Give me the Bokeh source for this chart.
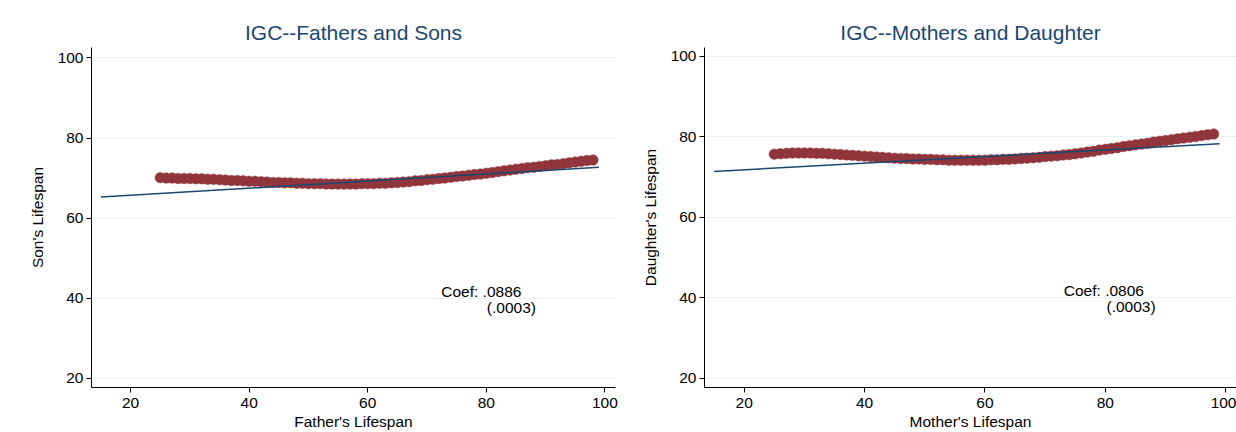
from bokeh.plotting import figure
from bokeh.layouts import row
from bokeh.models import Range1d, FixedTicker
from bokeh.embed import file_html
from bokeh.resources import INLINE
from bokeh.core.properties import value

# ---- data ----
ages = list(range(25, 99))
son_lifespan = [
    70.1, 70.0, 70.0, 69.9, 69.9, 69.9, 69.8, 69.8, 69.7, 69.7,
    69.6, 69.5, 69.4, 69.4, 69.3, 69.2, 69.2, 69.1, 69.0, 68.9,
    68.9, 68.8, 68.8, 68.7, 68.7, 68.6, 68.6, 68.6, 68.5, 68.5,
    68.5, 68.5, 68.5, 68.5, 68.6, 68.6, 68.6, 68.7, 68.7, 68.8,
    68.9, 69.0, 69.1, 69.3, 69.4, 69.6, 69.7, 69.9, 70.0, 70.2,
    70.4, 70.5, 70.7, 70.9, 71.0, 71.2, 71.4, 71.6, 71.8, 72.0,
    72.2, 72.4, 72.6, 72.7, 72.9, 73.1, 73.3, 73.4, 73.6, 73.8,
    74.0, 74.2, 74.4, 74.5,
]
daughter_lifespan = [
    75.7, 75.8, 75.9, 76.0, 76.0, 76.0, 76.0, 75.9, 75.9, 75.8,
    75.7, 75.6, 75.5, 75.4, 75.3, 75.2, 75.1, 75.0, 74.9, 74.8,
    74.7, 74.6, 74.6, 74.5, 74.5, 74.4, 74.4, 74.3, 74.3, 74.2,
    74.2, 74.2, 74.2, 74.2, 74.2, 74.2, 74.3, 74.3, 74.4, 74.4,
    74.5, 74.6, 74.7, 74.8, 74.9, 75.1, 75.2, 75.3, 75.5, 75.6,
    75.8, 76.0, 76.2, 76.4, 76.7, 76.9, 77.1, 77.3, 77.6, 77.8,
    78.0, 78.2, 78.4, 78.7, 78.9, 79.1, 79.3, 79.5, 79.7, 79.9,
    80.1, 80.3, 80.5, 80.7,
]
fit_x = [15, 99]
son_fit = [65.25, 72.7]
daughter_fit = [71.4, 78.3]
y_ticks = [20, 40, 60, 80, 100]
x_ticks = [20, 40, 60, 80, 100]

FONT = "Liberation Sans"
NAVY = "#1a476f"
MAROON = "#90353b"
GRID = "#eaf2f3"


def make_panel(title, xlab, ylab, ys, fit_y, coef, se, border_left, border_right,
               border_top, border_bottom, ymax, coef_pos, se_pos):
    p = figure(width=618, height=432, output_backend="svg", toolbar_location=None,
               x_range=Range1d(13.4, 101.8), y_range=Range1d(17.7, ymax),
               min_border_left=border_left, min_border_right=border_right,
               min_border_top=border_top, min_border_bottom=border_bottom,
               title=title)
    p.title.align = "center"
    p.title.text_font = FONT
    p.title.text_font_size = "21px"
    p.title.text_font_style = "normal"
    p.title.text_color = NAVY
    p.title.standoff = 7
    p.outline_line_color = None
    p.background_fill_color = "white"
    p.border_fill_color = "white"

    p.xgrid.grid_line_color = None
    p.ygrid.grid_line_color = GRID
    p.ygrid.grid_line_width = 1.2

    for ax in (p.xaxis[0], p.yaxis[0]):
        ax.ticker = FixedTicker(ticks=x_ticks if ax is p.xaxis[0] else y_ticks)
        ax.minor_tick_line_color = None
        ax.major_tick_in = 0
        ax.major_tick_out = 5
        ax.axis_line_color = "#000000"
        ax.major_tick_line_color = "#000000"
        ax.major_label_text_font = FONT
        ax.major_label_text_font_size = "15.5px"
        ax.major_label_text_color = "#000000"
        ax.axis_label_text_font = FONT
        ax.axis_label_text_font_size = "15.5px"
        ax.axis_label_text_font_style = "normal"
        ax.axis_label_text_color = "#000000"
    p.xaxis.axis_label = xlab
    p.yaxis.axis_label = ylab
    p.xaxis.major_label_standoff = 5
    p.xaxis.axis_label_standoff = 2
    p.yaxis.major_label_standoff = 3
    p.yaxis.axis_label_standoff = 9

    p.scatter(ages, ys, size=10.5, marker="circle", fill_color=MAROON,
              line_color=MAROON, line_width=0.5)
    p.line(fit_x, fit_y, line_color=NAVY, line_width=1.5)

    p.text(x=[coef_pos[0]], y=[coef_pos[1]], text=[coef], text_font=value(FONT),
           text_font_size="15.5px", text_color="#000000", text_align="left",
           text_baseline="middle")
    p.text(x=[se_pos[0]], y=[se_pos[1]], text=[se], text_font=value(FONT),
           text_font_size="15.5px", text_color="#000000", text_align="left",
           text_baseline="middle")
    return p


p1 = make_panel("IGC--Fathers and Sons", "Father's Lifespan", "Son's Lifespan",
                son_lifespan, son_fit, "Coef: .0886", "(.0003)",
                91, 3, 47, 44, 102.6, (72.4, 41.7), (80.1, 37.7))
p2 = make_panel("IGC--Mothers and Daughter", "Mother's Lifespan", "Daughter's Lifespan",
                daughter_lifespan, daughter_fit, "Coef: .0806", "(.0003)",
                86, 0, 43, 45, 102.2, (73.1, 41.9), (80.2, 37.9))

layout = row(p1, p2)
open("out.html", "w").write(file_html(layout, INLINE))
